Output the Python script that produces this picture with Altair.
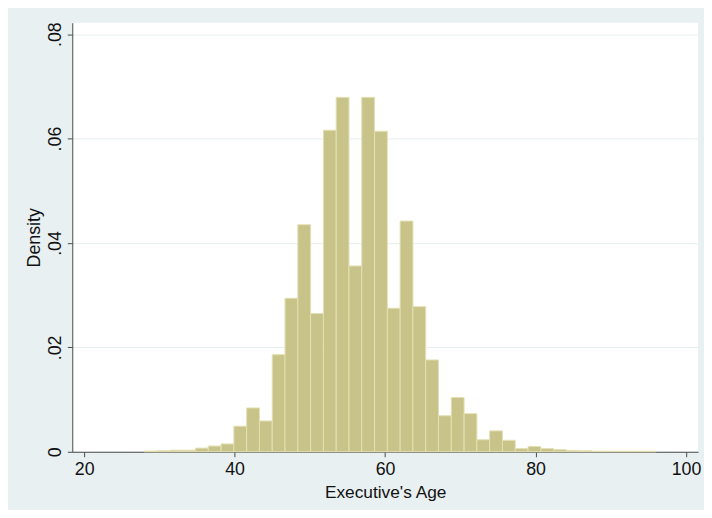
import altair as alt
import pandas as pd

# Histogram of executive age (Stata-style, 40 bins of width 1.7 starting at 28)
bin_start = [28.0, 29.7, 31.4, 33.1, 34.8, 36.5, 38.2, 39.9, 41.6, 43.3,
             45.0, 46.7, 48.4, 50.1, 51.8, 53.5, 55.2, 56.9, 58.6, 60.3,
             62.0, 63.7, 65.4, 67.1, 68.8, 70.5, 72.2, 73.9, 75.6, 77.3,
             79.0, 80.7, 82.4, 84.1, 85.8, 87.5, 89.2, 90.9, 92.6, 94.3]
bin_end = [29.7, 31.4, 33.1, 34.8, 36.5, 38.2, 39.9, 41.6, 43.3, 45.0,
           46.7, 48.4, 50.1, 51.8, 53.5, 55.2, 56.9, 58.6, 60.3, 62.0,
           63.7, 65.4, 67.1, 68.8, 70.5, 72.2, 73.9, 75.6, 77.3, 79.0,
           80.7, 82.4, 84.1, 85.8, 87.5, 89.2, 90.9, 92.6, 94.3, 96.0]
density = [0.00013, 0.0002, 0.0003, 0.0003, 0.0007, 0.0011, 0.0015, 0.0049, 0.0084, 0.0059,
           0.0186, 0.0294, 0.0435, 0.0265, 0.0616, 0.0679, 0.0356, 0.0679, 0.0614, 0.0275,
           0.0442, 0.0278, 0.0176, 0.0069, 0.0104, 0.0073, 0.0023, 0.0040, 0.0022, 0.0006,
           0.0010, 0.0006, 0.0004, 0.00025, 0.0002, 0.00012, 0.0001, 0.0001, 0.0001, 0.0001]

x_ticks = [20, 40, 60, 80, 100]
y_ticks = [0, 0.02, 0.04, 0.06, 0.08]

df = pd.DataFrame({"start": bin_start, "end": bin_end, "density": density})

FONT = "Liberation Sans"
BG = "#E9F0F2"

chart = alt.Chart(df).mark_rect(
    fill="#C8C388", stroke="#E4E0B4", strokeWidth=1
).encode(
    x=alt.X("start:Q",
            scale=alt.Scale(domain=[18.42, 101.6], nice=False, zero=False),
            axis=alt.Axis(values=x_ticks, title="Executive's Age", grid=False,
                          labelFontSize=18, titleFontSize=17.5, tickSize=5,
                          labelPadding=4, titlePadding=5, format="d")),
    x2="end:Q",
    y=alt.Y("density:Q",
            scale=alt.Scale(domain=[0, 0.0822], nice=False),
            axis=alt.Axis(values=y_ticks, title="Density", grid=True,
                          gridColor="#E6EFF1", gridWidth=1,
                          labelAngle=270, labelAlign="center", labelBaseline="bottom",
                          labelExpr="datum.value == 0 ? '0' : replace(format(datum.value, '.2f'), '0.', '.')",
                          labelFontSize=18, titleFontSize=18, tickSize=5,
                          labelPadding=3, titlePadding=3)),
    y2=alt.datum(0),
).properties(
    width=633,
    height=434,
    autosize=alt.AutoSizeParams(type="none"),
    padding={"left": 65, "top": 12, "right": 6, "bottom": 56},
    background=BG,
).configure_view(
    fill="white", stroke=None
).configure_axis(
    domainColor="#4a4a4a", tickColor="#4a4a4a", labelColor="#111111",
    titleColor="#111111", labelFont=FONT, titleFont=FONT,
    titleFontWeight="normal", domainWidth=1, tickWidth=1
)

chart.save("out.html", embed_options={"renderer": "svg", "actions": False})
